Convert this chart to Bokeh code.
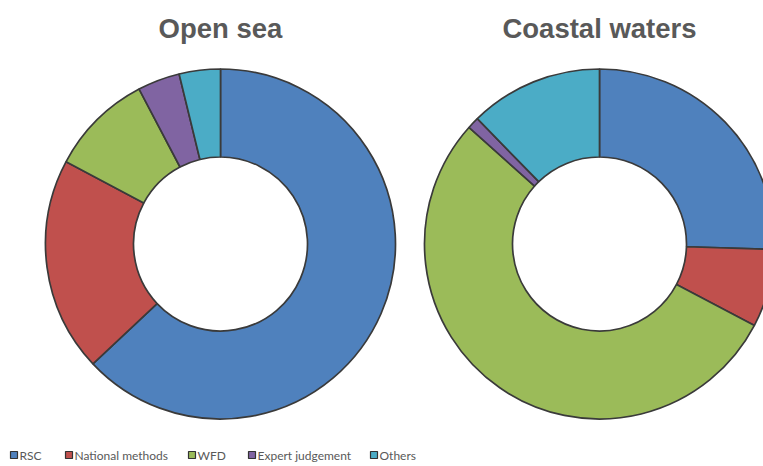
import math

from bokeh.core.properties import value
from bokeh.embed import file_html
from bokeh.models import ColumnDataSource, Label, Range1d
from bokeh.plotting import figure
from bokeh.resources import INLINE

# Share of assessment methods by method type
categories = ["RSC", "National methods", "WFD", "Expert judgement", "Others"]
open_sea = [63.0, 19.8, 9.5, 3.9, 3.8]
coastal_waters = [25.5, 7.2, 53.9, 1.1, 12.3]
panel_titles = ["Open sea", "Coastal waters"]

colors = ["#4F81BD", "#C0504D", "#9BBB59", "#8064A2", "#4BACC6"]
EDGE = "#3a3a3a"
TEXT = "#595959"

W, H = 763, 466
p = figure(width=W, height=H, x_range=Range1d(0, W), y_range=Range1d(0, H),
           output_backend="svg", toolbar_location=None, min_border=0,
           outline_line_color=None, background_fill_color="white",
           border_fill_color="white")
p.xaxis.visible = False
p.yaxis.visible = False
p.grid.visible = False

centers = [(220, H - 243.5), (599, H - 243.5)]
R_OUT, R_IN = 175, 87


def wedge_source(values):
    total = sum(values)
    starts, ends = [], []
    acc = 0.0
    for v in values:
        starts.append(math.pi / 2 - 2 * math.pi * acc / total)
        acc += v
        ends.append(math.pi / 2 - 2 * math.pi * acc / total)
    return ColumnDataSource(dict(category=categories, value=values,
                                 start=starts, end=ends, color=colors))


for (cx, cy), vals, title in zip(centers, [open_sea, coastal_waters], panel_titles):
    src = wedge_source(vals)
    p.annular_wedge(x=cx, y=cy, inner_radius=R_IN, outer_radius=R_OUT,
                    start_angle="start", end_angle="end", direction="clock",
                    fill_color="color", line_color=EDGE, line_width=1.7,
                    source=src)
    p.add_layout(Label(x=cx, y=H - 28, text=title, text_align="center",
                       text_baseline="alphabetic", text_color=TEXT,
                       text_font="Liberation Sans", text_font_style="bold",
                       text_font_size="27.5px"))

# Legend row along the bottom
legend_x = [10, 65, 188, 248, 370]
legend_y = H - 454.5
leg = ColumnDataSource(dict(x=[x + 3.5 for x in legend_x],
                            tx=[x + 9 for x in legend_x],
                            y=[legend_y] * len(categories),
                            label=categories, color=colors))
p.rect(x="x", y="y", width=7, height=7, fill_color="color",
       line_color="#333333", line_width=1.2, source=leg)
p.text(x="tx", y="y", text="label", source=leg, text_color=TEXT,
       text_font=value("Lato"), text_font_size="12px",
       text_baseline="middle", text_align="left")

open("out.html", "w").write(file_html(p, INLINE))
